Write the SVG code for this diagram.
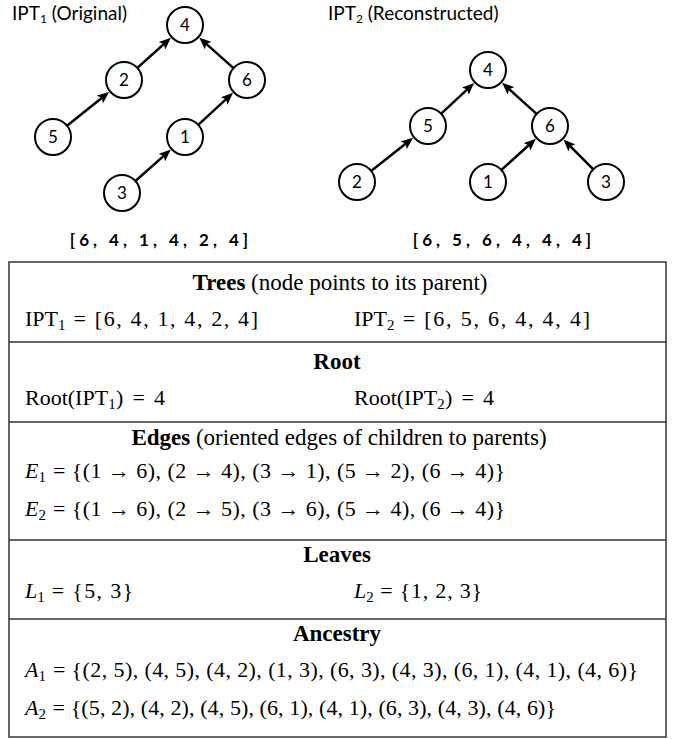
<svg xmlns="http://www.w3.org/2000/svg" width="681" height="739" viewBox="0 0 681 739">
<style>
.node circle{fill:#fff;stroke:#000;stroke-width:2}
.node text{font-family:Lato,"Open Sans",sans-serif;font-size:17px;text-anchor:middle;fill:#000}
.edge{stroke:#000;stroke-width:2.5;fill:none;marker-end:url(#ah)}
.ttl{font-family:Lato,"Open Sans",sans-serif;font-size:19px;fill:#000}
.arr{font-family:Lato,"Open Sans",sans-serif;font-size:17px;font-weight:bold;letter-spacing:4px;fill:#000;text-anchor:middle}
.hd{font-family:"Liberation Serif",serif;font-size:23px;text-anchor:middle;fill:#000}
.hd .b{font-weight:bold}
.rw{font-family:"Liberation Serif",serif;font-size:22px;fill:#000}
.it{font-style:italic}
.sb{font-size:15px}
.tl{stroke:#333;stroke-width:1.5}
</style>
<defs>
<marker id="ah" markerUnits="userSpaceOnUse" viewBox="0 0 12 10" markerWidth="12" markerHeight="10" refX="6" refY="5" orient="auto">
<path d="M0,0 L12,5 L0,10 L2.5,5 z" fill="#000"/>
</marker>
</defs>
<rect width="681" height="739" fill="#fff"/>

<text class="ttl" x="12" y="20">IPT<tspan font-size="12" dy="3">1</tspan><tspan dy="-3"> (Original)</tspan></text>
<text class="ttl" x="328" y="20">IPT<tspan font-size="12" dy="3">2</tspan><tspan dy="-3">  (Reconstructed)</tspan></text>

<g id="connectors">
<line class="edge" x1="137.4" y1="67.9" x2="166.4" y2="41.75"/>
<line class="edge" x1="233.5" y1="68.1" x2="203.7" y2="41.6"/>
<line class="edge" x1="67" y1="125.7" x2="104.5" y2="95.65"/>
<line class="edge" x1="198.2" y1="124.8" x2="228.6" y2="96.9"/>
<line class="edge" x1="135.4" y1="181" x2="166.3" y2="153.6"/>
<line class="edge" x1="441.2" y1="113.7" x2="469.7" y2="87.05"/>
<line class="edge" x1="536.6" y1="113.9" x2="506.55" y2="86.8"/>
<line class="edge" x1="371.1" y1="170.9" x2="408.4" y2="141.5"/>
<line class="edge" x1="501.4" y1="169.9" x2="531.45" y2="142.8"/>
<line class="edge" x1="593.3" y1="169.3" x2="567.7" y2="143.7"/>
</g>

<g id="t1-n4" class="node"><circle cx="185" cy="25" r="18"/><text x="185" y="31">4</text></g>
<g id="t1-n2" class="node"><circle cx="124" cy="80" r="18"/><text x="124" y="86">2</text></g>
<g id="t1-n6" class="node"><circle cx="247" cy="80" r="18"/><text x="247" y="86">6</text></g>
<g id="t1-n5" class="node"><circle cx="53" cy="137" r="18"/><text x="53" y="143">5</text></g>
<g id="t1-n1" class="node"><circle cx="185" cy="137" r="18"/><text x="185" y="143">1</text></g>
<g id="t1-n3" class="node"><circle cx="122" cy="193" r="18"/><text x="122" y="199">3</text></g>

<g id="t2-n4" class="node"><circle cx="488" cy="70" r="18"/><text x="488" y="76">4</text></g>
<g id="t2-n5" class="node"><circle cx="428" cy="126" r="18"/><text x="428" y="132">5</text></g>
<g id="t2-n6" class="node"><circle cx="550" cy="126" r="18"/><text x="550" y="132">6</text></g>
<g id="t2-n2" class="node"><circle cx="357" cy="182" r="18"/><text x="357" y="188">2</text></g>
<g id="t2-n1" class="node"><circle cx="488" cy="182" r="18"/><text x="488" y="188">1</text></g>
<g id="t2-n3" class="node"><circle cx="606" cy="182" r="18"/><text x="606" y="188">3</text></g>

<text class="arr" x="161" y="246">[6, 4, 1, 4, 2, 4]</text>
<text class="arr" x="504" y="246">[6, 5, 6, 4, 4, 4]</text>

<g id="table">
<rect x="9" y="262" width="657" height="475" fill="none" stroke="#333" stroke-width="1.5"/>
<line class="tl" x1="9" y1="342" x2="666" y2="342"/>
<line class="tl" x1="9" y1="422" x2="666" y2="422"/>
<line class="tl" x1="9" y1="540" x2="666" y2="540"/>
<line class="tl" x1="9" y1="619" x2="666" y2="619"/>

<text class="hd" x="340" y="290"><tspan class="b">Trees</tspan> (node points to its parent)</text>
<text class="rw" x="25" y="326">IPT<tspan class="sb" dy="4">1</tspan><tspan dy="-4" x="66.5" textLength="191.5" lengthAdjust="spacing"> = [6, 4, 1, 4, 2, 4]</tspan></text>
<text class="rw" x="354" y="326">IPT<tspan class="sb" dy="4">2</tspan><tspan dy="-4" x="395.5" textLength="194.5" lengthAdjust="spacing"> = [6, 5, 6, 4, 4, 4]</tspan></text>

<text class="hd" x="337" y="369"><tspan class="b">Root</tspan></text>
<text class="rw" x="25" y="405">Root(IPT<tspan class="sb" dy="4">1</tspan><tspan dy="-4" x="116" textLength="49" lengthAdjust="spacing">) = 4</tspan></text>
<text class="rw" x="354" y="405">Root(IPT<tspan class="sb" dy="4">2</tspan><tspan dy="-4" x="445" textLength="49" lengthAdjust="spacing">) = 4</tspan></text>

<text class="hd" x="339" y="445"><tspan class="b">Edges</tspan> (oriented edges of children to parents)</text>
<text class="rw" x="25" y="478"><tspan class="it">E</tspan><tspan class="sb" dy="4">1</tspan><tspan dy="-4" x="47" textLength="458" lengthAdjust="spacing"> = {(1 → 6), (2 → 4), (3 → 1), (5 → 2), (6 → 4)}</tspan></text>
<text class="rw" x="25" y="516"><tspan class="it">E</tspan><tspan class="sb" dy="4">2</tspan><tspan dy="-4" x="47" textLength="458" lengthAdjust="spacing"> = {(1 → 6), (2 → 5), (3 → 6), (5 → 4), (6 → 4)}</tspan></text>

<text class="hd" x="337" y="562"><tspan class="b">Leaves</tspan></text>
<text class="rw" x="25" y="598"><tspan class="it">L</tspan><tspan class="sb" dy="4">1</tspan><tspan dy="-4" x="45" textLength="88" lengthAdjust="spacing"> = {5, 3}</tspan></text>
<text class="rw" x="354" y="598"><tspan class="it">L</tspan><tspan class="sb" dy="4">2</tspan><tspan dy="-4" x="374" textLength="108" lengthAdjust="spacing"> = {1, 2, 3}</tspan></text>

<text class="hd" x="337" y="641"><tspan class="b">Ancestry</tspan></text>
<text class="rw" x="25" y="677"><tspan class="it">A</tspan><tspan class="sb" dy="4">1</tspan><tspan dy="-4" x="47" textLength="591" lengthAdjust="spacing"> = {(2, 5), (4, 5), (4, 2),  (1, 3), (6, 3), (4, 3), (6, 1),  (4, 1), (4, 6)}</tspan></text>
<text class="rw" x="25" y="715"><tspan class="it">A</tspan><tspan class="sb" dy="4">2</tspan><tspan dy="-4" x="47" textLength="509" lengthAdjust="spacing"> = {(5, 2), (4, 2), (4, 5),  (6, 1), (4, 1), (6, 3), (4, 3),  (4, 6)}</tspan></text>
</g>
</svg>
